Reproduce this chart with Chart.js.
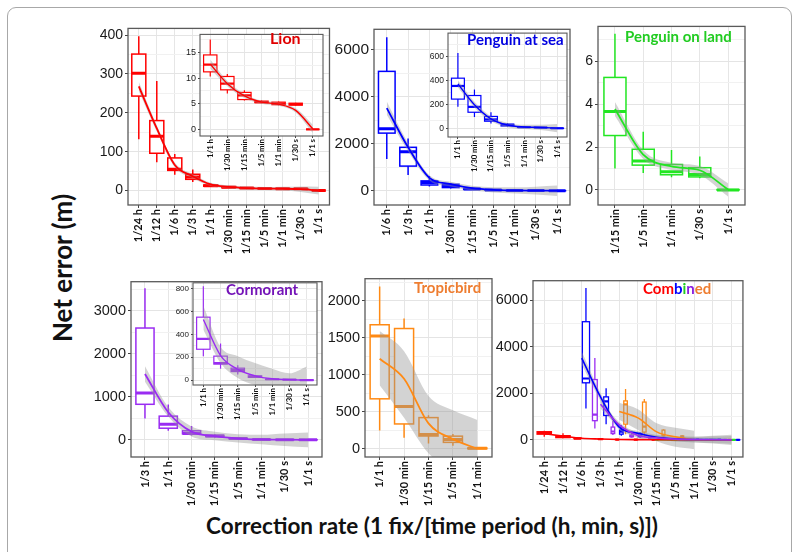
<!DOCTYPE html>
<html><head><meta charset="utf-8">
<script src="https://cdn.jsdelivr.net/npm/chart.js@4.4.0/dist/chart.umd.min.js"></script>
<style>
html,body{margin:0;padding:0;background:#fff}
body{width:800px;height:552px;overflow:hidden;position:relative;font-family:Lato,'Liberation Sans',sans-serif}
.frame{position:absolute;left:7px;top:7px;width:785px;height:620px;border:1.5px solid #a8a8a8;border-radius:9px;box-sizing:border-box;z-index:0}
canvas{position:absolute}
.t{position:absolute;font-weight:bold;white-space:nowrap;line-height:1;z-index:10}
</style></head><body>
<div class="frame"></div>
<script>
// ================= DATA =================
// Lion
const lionCats = ['1/24 h','1/12 h','1/6 h','1/3 h','1/1 h','1/30 min','1/15 min','1/5 min','1/1 min','1/30 s','1/1 s'];
const lionMin = [132, 73, 41, 22, 10.3, 7.0, 5.6, 5.1, 4.7, 4.6, 0];
const lionQ1  = [243, 96, 52, 29, 11.2, 7.7, 5.8, 5.2, 4.8, 4.7, 0];
const lionMed = [302, 140, 55, 35, 12.6, 8.9, 6.6, 5.3, 5.0, 4.9, 0];
const lionQ3  = [351, 180, 84, 42, 14.5, 10.3, 7.2, 5.5, 5.3, 5.1, 0];
const lionMax = [397, 282, 94, 54, 17.5, 10.8, 7.6, 5.6, 5.4, 5.2, 0];
const lionFit   = [268, 160, 66, 37, 16, 9.5, 6.5, 5.3, 4.9, 3.6, 0];
const lionFitLo = [256, 152, 60, 32, 12, 5.5, 2.5, 1.3, 0, -3.5, -10];
const lionFitHi = [280, 168, 72, 42, 20, 13.5, 10.5, 9.3, 9.8, 10.7, 10];
const lionInFit   = [12.7, 8.9, 6.5, 5.3, 4.9, 3.7, 0.1];
const lionInFitLo = [11.8, 8.4, 6.1, 5.0, 4.6, 3.3, -0.7];
const lionInFitHi = [13.6, 9.4, 6.9, 5.6, 5.2, 4.1, 0.9];
const lionTicks = [0, 100, 200, 300, 400];
const lionInTicks = [0, 5, 10, 15];
// Penguin at sea
const seaCats = ['1/6 h','1/3 h','1/1 h','1/30 min','1/15 min','1/5 min','1/1 min','1/30 s','1/1 s'];
const seaMin = [1350, 675, 180, 95, 40, 15, 5, 3, 0];
const seaQ1  = [2455, 1050, 245, 135, 60, 20, 8, 5, 0];
const seaMed = [2640, 1660, 355, 180, 75, 30, 10, 7, 1];
const seaQ3  = [5085, 1850, 420, 275, 100, 35, 12, 9, 2];
const seaMax = [6540, 2225, 630, 325, 135, 45, 15, 10, 3];
const seaFit   = [3520, 1850, 550, 280, 110, 40, 15, 8, 2];
const seaFitLo = [3240, 1680, 440, 180, 10, -70, -115, -160, -220];
const seaFitHi = [3800, 2020, 660, 380, 210, 150, 145, 175, 220];
const seaInFit   = [372, 198, 80, 28, 12, 8, 2];
const seaInFitLo = [342, 173, 60, 10, -6, -14, -33];
const seaInFitHi = [402, 223, 100, 46, 30, 30, 37];
const seaTicks = [0, 2000, 4000, 6000];
const seaInTicks = [0, 200, 400, 600];
// Penguin on land
const landCats = ['1/15 min','1/5 min','1/1 min','1/30 s','1/1 s'];
const landMin = [1.0, 0.79, 0.6, 0.55, 0];
const landQ1  = [2.54, 1.16, 0.71, 0.61, 0];
const landMed = [3.66, 1.35, 0.85, 0.72, 0];
const landQ3  = [5.25, 1.9, 1.19, 1.04, 0.02];
const landMax = [7.29, 2.72, 1.86, 1.56, 0.03];
const landFit   = [3.78, 1.65, 1.1, 0.92, 0.02];
const landFitLo = [3.45, 1.45, 0.93, 0.7, -0.3];
const landFitHi = [4.1, 1.85, 1.27, 1.12, 0.32];
const landTicks = [0, 2, 4, 6];
// Cormorant
const cormCats = ['1/3 h','1/1 h','1/30 min','1/15 min','1/5 min','1/1 min','1/30 s','1/1 s'];
const cormMin = [493, 210, 100, 50, 20, 5, 3, 0];
const cormQ1  = [825, 270, 140, 75, 25, 6, 4, 0];
const cormMed = [1085, 360, 150, 90, 30, 8, 5, 1];
const cormQ3  = [2595, 550, 210, 105, 38, 9, 6, 2];
const cormMax = [3520, 820, 320, 130, 45, 10, 7, 3];
const cormFit   = [1530, 640, 190, 85, 30, 10, 5, 0];
const cormFitLo = [1350, 540, 80, -10, -60, -100, -140, -170];
const cormFitHi = [1710, 760, 310, 190, 130, 120, 150, 170];
const cormInFit   = [530, 215, 95, 38, 12, 5, 1];
const cormInFitLo = [440, 150, 20, -40, -60, -60, -80];
const cormInFitHi = [650, 290, 210, 150, 100, 60, 120];
const cormTicks = [0, 1000, 2000, 3000];
const cormInTicks = [0, 200, 400, 600, 800];
// Tropicbird
const tropCats = ['1/1 h','1/30 min','1/15 min','1/5 min','1/1 min'];
const tropMin = [245, 150, 72, 40, 0];
const tropQ1  = [675, 335, 172, 86, 0];
const tropMed = [1526, 572, 194, 125, 5];
const tropQ3  = [1677, 1626, 421, 170, 10];
const tropMax = [2194, 1763, 452, 200, 15];
const tropFit   = [1218, 946, 343, 130, 0];
const tropFitLo = [860, 420, -60, -300, -400];
const tropFitHi = [1592, 1320, 713, 520, 390];
const tropTicks = [0, 500, 1000, 1500, 2000];
// Combined
const combCats = lionCats;
const combTicks = [0, 2000, 4000, 6000];

// ================= STYLE =================
const COL = {lion:'#ff0000', sea:'#0000ff', land:'#22e622', corm:'#9a2cf2', trop:'#ff8a14'};
const BAND = 'rgba(150,150,150,0.42)';

const SP = {
  lion:{cats:lionCats, mn:lionMin, q1:lionQ1, md:lionMed, q3:lionQ3, mx:lionMax, fit:lionFit, lo:lionFitLo, hi:lionFitHi, color:COL.lion},
  sea:{cats:seaCats, mn:seaMin, q1:seaQ1, md:seaMed, q3:seaQ3, mx:seaMax, fit:seaFit, lo:seaFitLo, hi:seaFitHi, color:COL.sea},
  land:{cats:landCats, mn:landMin, q1:landQ1, md:landMed, q3:landQ3, mx:landMax, fit:landFit, lo:landFitLo, hi:landFitHi, color:COL.land},
  corm:{cats:cormCats, mn:cormMin, q1:cormQ1, md:cormMed, q3:cormQ3, mx:cormMax, fit:cormFit, lo:cormFitLo, hi:cormFitHi, color:COL.corm},
  trop:{cats:tropCats, mn:tropMin, q1:tropQ1, md:tropMed, q3:tropQ3, mx:tropMax, fit:tropFit, lo:tropFitLo, hi:tropFitHi, color:COL.trop}
};

// build box list: groups = [{sp, start}], positions looked up in cats; dodge for combined
function buildBoxes(cats, groups, dodge, width) {
  const boxes = [];
  cats.forEach((c, ci) => {
    const present = groups.filter(g => g.sp.cats.indexOf(c) >= g.start);
    const n = present.length;
    present.forEach((g, r) => {
      const k = g.sp.cats.indexOf(c);
      let x = ci, w = width;
      if (dodge) { const slot = 0.9 / n; x = ci - 0.45 + slot * (r + 0.5); w = slot * 0.85; }
      boxes.push({x, w, mn:g.sp.mn[k], q1:g.sp.q1[k], md:g.sp.md[k], q3:g.sp.q3[k], mx:g.sp.mx[k], color:g.sp.color});
    });
  });
  return boxes;
}
function fitOf(cats, sp, fit, lo, hi, start) {
  const xs = sp.cats.slice(start).map(c => cats.indexOf(c));
  return {xs, fit, lo, hi, color: sp.color};
}

function makeChart(geo, cats, boxes, fits, o) {
  const pad = 2;
  const cv = document.createElement('canvas');
  const W = (geo.R - geo.L) + o.yw + 2 * pad, H = (geo.B - geo.T) + o.xh + 2 * pad;
  cv.width = W; cv.height = H;
  cv.style.left = (geo.L - o.yw - pad) + 'px'; cv.style.top = (geo.T - pad) + 'px';
  cv.style.width = W + 'px'; cv.style.height = H + 'px';
  cv.style.zIndex = o.z || 1;
  document.body.appendChild(cv);
  const majors = o.ticks;
  const step = majors[1] - majors[0];
  const all = [];
  for (let v = majors[0] - step; v <= majors[majors.length - 1] + step + 1e-9; v += step / 2) {
    if (v >= o.ymin && v <= o.ymax) all.push(Math.round(v * 1000) / 1000);
  }
  const isMajor = v => majors.some(m => Math.abs(m - v) < 1e-6);
  const datasets = [];
  fits.forEach(f => {
    const pts = arr => arr.map((v, i) => ({x: f.xs[i], y: v}));
    datasets.push({data: pts(f.lo), borderColor:'transparent', borderWidth:0, pointRadius:0, fill:false, order:2, cubicInterpolationMode:'monotone'});
    datasets.push({data: pts(f.hi), borderColor:'transparent', borderWidth:0, pointRadius:0, fill:'-1', backgroundColor:BAND, order:2, cubicInterpolationMode:'monotone'});
    datasets.push({data: pts(f.fit), borderColor:f.color, borderWidth:o.lw, pointRadius:0, fill:false, order:1, cubicInterpolationMode:'monotone'});
  });
  const plugin = {
    id: 'boxes',
    beforeDraw(chart) {
      const a = chart.chartArea, ctx = chart.ctx;
      ctx.save(); ctx.fillStyle = '#fff'; ctx.fillRect(a.left, a.top, a.right - a.left, a.bottom - a.top); ctx.restore();
    },
    beforeDatasetsDraw(chart) {
      const {ctx, chartArea:a, scales:{x, y}} = chart;
      const unit = x.getPixelForValue(1) - x.getPixelForValue(0);
      const py = v => y.getPixelForValue(v);
      ctx.save(); ctx.beginPath(); ctx.rect(a.left, a.top, a.right - a.left, a.bottom - a.top); ctx.clip();
      boxes.forEach(b => {
        const xc = x.getPixelForValue(b.x), hw = unit * b.w / 2;
        ctx.strokeStyle = b.color; ctx.lineWidth = o.bw;
        ctx.beginPath(); ctx.moveTo(xc, py(b.mx)); ctx.lineTo(xc, py(b.mn)); ctx.stroke();
        const yt = py(b.q3), yb = py(b.q1);
        ctx.fillStyle = '#fff'; ctx.fillRect(xc - hw, yt, 2 * hw, yb - yt);
        ctx.strokeRect(xc - hw, yt, 2 * hw, yb - yt);
        ctx.lineWidth = o.mw; ctx.beginPath(); ctx.moveTo(xc - hw, py(b.md)); ctx.lineTo(xc + hw, py(b.md)); ctx.stroke();
      });
      ctx.restore();
    },
    afterDatasetsDraw(chart) {
      const a = chart.chartArea, ctx = chart.ctx;
      ctx.save(); ctx.strokeStyle = '#5a5a5a'; ctx.lineWidth = o.fw || 1.2;
      ctx.strokeRect(a.left, a.top, a.right - a.left, a.bottom - a.top); ctx.restore();
    }
  };
  new Chart(cv, {
    type: 'line',
    data: {datasets},
    plugins: [plugin],
    options: {
      responsive:false, animation:false, devicePixelRatio:1, events:[],
      layout:{padding:pad},
      plugins:{legend:{display:false}, tooltip:{enabled:false}, title:{display:false}},
      scales:{
        x:{type:'linear', min:-0.6, max:cats.length - 0.4,
          afterBuildTicks: s => { s.ticks = cats.map((_, i) => ({value:i})); },
          afterFit: s => { s.height = o.xh; },
          ticks:{autoSkip:false, minRotation:90, maxRotation:90, padding:1, color:'#111',
                 font:{family:'Lato', weight:'bold', size:o.xfs}, callback: v => cats[v]},
          grid:{color:'#e6e6e6', lineWidth:1, tickLength:o.tl, tickColor:'#444'},
          border:{display:false}},
        y:{type:'linear', min:o.ymin, max:o.ymax,
          afterBuildTicks: s => { s.ticks = all.map(v => ({value:v})); },
          afterFit: s => { s.width = o.yw; },
          ticks:{autoSkip:false, padding:2, color:'#1a1a1a', font:{family:'Liberation Sans', size:o.yfs},
                 callback: v => isMajor(v) ? String(v) : ''},
          grid:{color: c => isMajor(c.tick.value) ? '#e4e4e4' : '#f1f1f1', lineWidth:1, tickLength:o.tl,
                tickColor: c => isMajor(c.tick.value) ? '#444' : 'rgba(0,0,0,0)'},
          border:{display:false}}
      }
    }
  });
}

const MAIN = {yw:42, xh:52, xfs:11, tl:3, lw:1.8, bw:1.5, mw:3, fw:1.3};
const INSET = {yw:20, xh:40, xfs:7.8, tl:2, lw:1.4, bw:1.2, mw:2.2, fw:1.1, z:2};

// Lion
makeChart({L:128, T:20, R:331, B:205}, lionCats, buildBoxes(lionCats, [{sp:SP.lion, start:0}], false, 0.78),
  [fitOf(lionCats, SP.lion, lionFit, lionFitLo, lionFitHi, 0)],
  Object.assign({}, MAIN, {ymin:-37, ymax:417, ticks:lionTicks, yfs:14}));
const lionIn = lionCats.slice(4);
makeChart({L:200, T:29, R:323, B:136}, lionIn, buildBoxes(lionIn, [{sp:SP.lion, start:4}], false, 0.78),
  [fitOf(lionIn, SP.lion, lionInFit, lionInFitLo, lionInFitHi, 4)],
  Object.assign({}, INSET, {ymin:-1.3, ymax:18.5, ticks:lionInTicks, yfs:9}));
// Penguin at sea
makeChart({L:374, T:20, R:570, B:205}, seaCats, buildBoxes(seaCats, [{sp:SP.sea, start:0}], false, 0.78),
  [fitOf(seaCats, SP.sea, seaFit, seaFitLo, seaFitHi, 0)],
  Object.assign({}, MAIN, {ymin:-607, ymax:6877, ticks:seaTicks, yfs:15.5, yw:48}));
const seaIn = seaCats.slice(2);
makeChart({L:448, T:28, R:567, B:137}, seaIn, buildBoxes(seaIn, [{sp:SP.sea, start:2}], false, 0.78),
  [fitOf(seaIn, SP.sea, seaInFit, seaInFitLo, seaInFitHi, 2)],
  Object.assign({}, INSET, {ymin:-72, ymax:797, ticks:seaInTicks, yfs:8.5}));
// Penguin on land
makeChart({L:598, T:18, R:745, B:205}, landCats, buildBoxes(landCats, [{sp:SP.land, start:0}], false, 0.78),
  [fitOf(landCats, SP.land, landFit, landFitLo, landFitHi, 0)],
  Object.assign({}, MAIN, {ymin:-0.7, ymax:7.63, ticks:landTicks, yfs:14}));
// Cormorant
makeChart({L:131, T:273, R:322, B:457}, cormCats, buildBoxes(cormCats, [{sp:SP.corm, start:0}], false, 0.78),
  [fitOf(cormCats, SP.corm, cormFit, cormFitLo, cormFitHi, 0)],
  Object.assign({}, MAIN, {ymin:-398, ymax:3670, ticks:cormTicks, yfs:14.5}));
const cormIn = cormCats.slice(1);
makeChart({L:193, T:278, R:317, B:385}, cormIn, buildBoxes(cormIn, [{sp:SP.corm, start:1}], false, 0.78),
  [fitOf(cormIn, SP.corm, cormInFit, cormInFitLo, cormInFitHi, 1)],
  Object.assign({}, INSET, {ymin:-42, ymax:850, ticks:cormInTicks, yfs:8}));
// Tropicbird
makeChart({L:365, T:270, R:492, B:457}, tropCats, buildBoxes(tropCats, [{sp:SP.trop, start:0}], false, 0.78),
  [fitOf(tropCats, SP.trop, tropFit, tropFitLo, tropFitHi, 0)],
  Object.assign({}, MAIN, {ymin:-112, ymax:2300, ticks:tropTicks, yfs:14.5}));
// Combined (dodge order: Cormorant, Lion, Penguin on land, Penguin at sea, Tropicbird)
const combGroups = [SP.corm, SP.lion, SP.land, SP.sea, SP.trop].map(sp => ({sp, start:0}));
makeChart({L:533, T:272, R:744, B:457}, combCats, buildBoxes(combCats, combGroups, true, 0.78),
  [SP.corm, SP.lion, SP.land, SP.sea, SP.trop].map(sp => fitOf(combCats, sp, sp.fit, sp.lo, sp.hi, 0)),
  Object.assign({}, MAIN, {ymin:-738, ymax:6850, ticks:combTicks, yfs:14.5, bw:1.3, mw:2.2, lw:1.6}));
</script>
<div class="t" style="left:270px;top:30px;font-size:16px;color:#e00000">Lion</div>
<div class="t" style="left:467px;top:32px;font-size:15px;color:#0000e0">Penguin at sea</div>
<div class="t" style="left:625px;top:29px;font-size:15px;color:#22cc22">Penguin on land</div>
<div class="t" style="left:226px;top:282px;font-size:15px;color:#7414b8">Cormorant</div>
<div class="t" style="left:414px;top:280px;font-size:15px;color:#ee7d30">Tropicbird</div>
<div class="t" style="left:643px;top:281px;font-size:15px"><span style="color:#ff0000">Com</span><span style="color:#0000ff">b</span><span style="color:#22cc22">i</span><span style="color:#8a1fe0">n</span><span style="color:#ee7d30">ed</span></div>
<div class="t" style="left:62px;top:268px;font-size:26px;color:#111;transform:translate(-50%,-50%) rotate(-90deg)">Net error (m)</div>
<div class="t" style="left:432px;top:526px;font-size:22.5px;color:#111;transform:translate(-50%,-50%)">Correction rate (1 fix/[time period (h, min, s)])</div>
</body></html>
